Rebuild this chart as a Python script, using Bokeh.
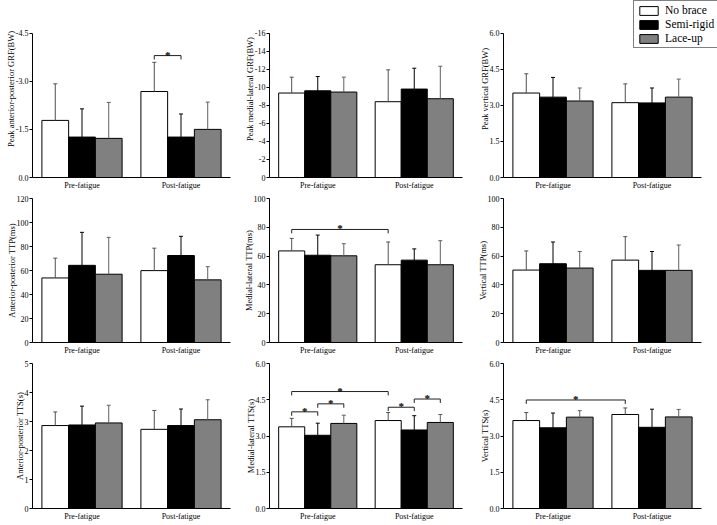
import numpy as np
from bokeh.plotting import figure
from bokeh.layouts import gridplot
from bokeh.models import Range1d, FixedTicker, PrintfTickFormatter, Legend, LegendItem
from bokeh.core.properties import value
from bokeh.embed import file_html
from bokeh.resources import INLINE

# ---------------- data ----------------
GROUPS = ["Pre-fatigue", "Post-fatigue"]
BRACES = ["No brace", "Semi-rigid", "Lace-up"]
# order of every value list: Pre-fatigue (No brace, Semi-rigid, Lace-up), Post-fatigue (No brace, Semi-rigid, Lace-up)

AP_GRF_MEAN = [-1.78, -1.26, -1.22, -2.68, -1.26, -1.50]
AP_GRF_SD = [1.14, 0.88, 1.12, 0.91, 0.72, 0.85]
AP_GRF_TICKS = [0.0, -1.5, -3.0, -4.5]
AP_GRF_SIG = [((1, 0), (1, 1), -3.80)]

ML_GRF_MEAN = [-9.36, -9.61, -9.47, -8.40, -9.80, -8.73]
ML_GRF_SD = [1.76, 1.58, 1.65, 3.53, 2.31, 3.60]
ML_GRF_TICKS = [0, -2, -4, -6, -8, -10, -12, -14, -16]
ML_GRF_SIG = []

V_GRF_MEAN = [3.51, 3.34, 3.18, 3.11, 3.10, 3.34]
V_GRF_SD = [0.80, 0.82, 0.54, 0.78, 0.62, 0.75]
V_GRF_TICKS = [0.0, 1.5, 3.0, 4.5, 6.0]
V_GRF_SIG = []

AP_TTP_MEAN = [53.8, 64.3, 56.9, 59.9, 72.5, 52.2]
AP_TTP_SD = [16.5, 27.5, 30.7, 18.7, 16.0, 11.0]
AP_TTP_TICKS = [0, 20, 40, 60, 80, 100, 120]
AP_TTP_SIG = []

ML_TTP_MEAN = [63.6, 60.6, 60.2, 54.0, 57.2, 54.0]
ML_TTP_SD = [8.7, 14.0, 8.4, 15.8, 7.8, 16.7]
ML_TTP_TICKS = [0, 20, 40, 60, 80, 100]
ML_TTP_SIG = [((0, 0), (1, 0), 78.5)]

V_TTP_MEAN = [50.3, 54.7, 51.7, 57.2, 50.1, 50.1]
V_TTP_SD = [13.3, 15.1, 11.5, 16.3, 13.1, 17.6]
V_TTP_TICKS = [0, 20, 40, 60, 80, 100]
V_TTP_SIG = []

AP_TTS_MEAN = [2.86, 2.88, 2.95, 2.73, 2.86, 3.06]
AP_TTS_SD = [0.47, 0.65, 0.61, 0.65, 0.57, 0.69]
AP_TTS_TICKS = [0, 1, 2, 3, 4, 5]
AP_TTS_SIG = []

ML_TTS_MEAN = [3.38, 3.03, 3.52, 3.64, 3.25, 3.56]
ML_TTS_SD = [0.35, 0.50, 0.34, 0.33, 0.59, 0.33]
ML_TTS_TICKS = [0.0, 1.5, 3.0, 4.5, 6.0]
ML_TTS_SIG = [((0, 0), (1, 0), 4.84), ((0, 0), (0, 1), 4.00), ((0, 1), (0, 2), 4.33),
              ((1, 0), (1, 1), 4.19), ((1, 1), (1, 2), 4.53)]

V_TTS_MEAN = [3.64, 3.34, 3.78, 3.89, 3.36, 3.79]
V_TTS_SD = [0.33, 0.61, 0.27, 0.27, 0.75, 0.31]
V_TTS_TICKS = [0.0, 1.5, 3.0, 4.5, 6.0]
V_TTS_SIG = [((0, 0), (1, 0), 4.49)]

YLABELS = [
    ["Peak anterior-posterior GRF(BW)", "Peak medial-lateral GRF(BW)", "Peak vertical GRF(BW)"],
    ["Anterior-posterior TTP(ms)", "Medial-lateral TTP(ms)", "Vertical TTP(ms)"],
    ["Anterior-posterior TTS(s)", "Medial-lateral TTS(s)", "Vertical TTS(s)"],
]

PANELS = [
    [(AP_GRF_MEAN, AP_GRF_SD, AP_GRF_TICKS, "%.1f", AP_GRF_SIG),
     (ML_GRF_MEAN, ML_GRF_SD, ML_GRF_TICKS, "%d", ML_GRF_SIG),
     (V_GRF_MEAN, V_GRF_SD, V_GRF_TICKS, "%.1f", V_GRF_SIG)],
    [(AP_TTP_MEAN, AP_TTP_SD, AP_TTP_TICKS, "%d", AP_TTP_SIG),
     (ML_TTP_MEAN, ML_TTP_SD, ML_TTP_TICKS, "%d", ML_TTP_SIG),
     (V_TTP_MEAN, V_TTP_SD, V_TTP_TICKS, "%d", V_TTP_SIG)],
    [(AP_TTS_MEAN, AP_TTS_SD, AP_TTS_TICKS, "%d", AP_TTS_SIG),
     (ML_TTS_MEAN, ML_TTS_SD, ML_TTS_TICKS, "%.1f", ML_TTS_SIG),
     (V_TTS_MEAN, V_TTS_SD, V_TTS_TICKS, "%.1f", V_TTS_SIG)],
]

# ---------------- style / layout ----------------
FONT = "Liberation Serif"
FILLS = ["white", "black", "#808080"]
ERR_COLORS = ["#505050", "black", "#606060"]
BAR_W = 0.27

COL_W = [231, 232, 254]
COL_BL = [32, 38, 40]
COL_BR = [1, 1, 0]
ROW_H = [192, 165, 166]
ROW_BT = [0, 6, 6]
ROW_BB = [13, 13, 13]
TOP_PAD = 33        # space between the top row's frame edge and its top tick (room for the legend)
AXIS_W3 = 198       # drawn axis length in the right column (frame extends further for the legend)


def bar_x(g, b):
    return g + 0.5 + (b - 1) * BAR_W


def make_panel(r, c):
    mean, sd, ticks, fmt, sig = PANELS[r][c]
    mean = np.array(mean, dtype=float)
    sd = np.array(sd, dtype=float)
    sign = np.sign(ticks[-1])
    span = abs(ticks[-1] - ticks[0])

    frame_h = ROW_H[r] - ROW_BT[r] - ROW_BB[r]
    frame_w = COL_W[c] - COL_BL[c] - COL_BR[c]
    y_end = ticks[-1] * frame_h / (frame_h - TOP_PAD) if r == 0 else ticks[-1]
    x_end = 2.0 * frame_w / AXIS_W3 if c == 2 else 2.0

    p = figure(width=COL_W[c], height=ROW_H[r],
               x_range=Range1d(0, x_end), y_range=Range1d(ticks[0], y_end),
               output_backend="svg", toolbar_location=None,
               min_border_left=COL_BL[c], min_border_right=COL_BR[c],
               min_border_top=ROW_BT[r], min_border_bottom=ROW_BB[r])
    p.grid.visible = False
    p.outline_line_color = None
    p.background_fill_color = "white"
    p.border_fill_color = "white"

    xa = p.xaxis[0]
    xa.bounds = (0, 2)
    xa.ticker = FixedTicker(ticks=[0.5, 1.5])
    xa.major_label_overrides = {0.5: GROUPS[0], 1.5: GROUPS[1]}
    xa.major_tick_out = 0
    xa.major_tick_in = 0
    xa.minor_tick_out = 0
    xa.minor_tick_in = 0
    xa.major_label_standoff = 3
    xa.major_label_text_font = FONT
    xa.major_label_text_font_size = "8px"
    xa.major_label_text_color = "black"
    xa.axis_line_color = "black"

    ya = p.yaxis[0]
    ya.bounds = (min(ticks[0], ticks[-1]), max(ticks[0], ticks[-1]))
    ya.ticker = FixedTicker(ticks=ticks)
    ya.formatter = PrintfTickFormatter(format=fmt)
    ya.major_tick_out = 3
    ya.major_tick_in = 0
    ya.minor_tick_out = 0
    ya.minor_tick_in = 0
    ya.major_tick_line_color = "black"
    ya.major_label_standoff = 1
    ya.major_label_text_font = FONT
    ya.major_label_text_font_size = "8px"
    ya.major_label_text_color = "black"
    ya.axis_line_color = "black"
    ya.axis_label = YLABELS[r][c]
    ya.axis_label_text_font = FONT
    ya.axis_label_text_font_size = "8.5px"
    ya.axis_label_text_font_style = "normal"
    ya.axis_label_text_color = "black"
    ya.axis_label_standoff = -3

    renderers = []
    for b in range(3):
        xs = [bar_x(g, b) for g in range(2)]
        tops = [mean[g * 3 + b] for g in range(2)]
        ups = [mean[g * 3 + b] + sign * sd[g * 3 + b] for g in range(2)]
        rb = p.vbar(x=xs, top=tops, bottom=0, width=BAR_W,
                    fill_color=FILLS[b], line_color="black", line_width=1)
        renderers.append(rb)
        p.segment(x0=xs, y0=tops, x1=xs, y1=ups, line_color=ERR_COLORS[b], line_width=1)
        p.scatter(x=xs, y=ups, marker="dash", size=4, line_color=ERR_COLORS[b], line_width=1)

    drop = sign * span * 0.027
    for (g1, b1), (g2, b2), level in sig:
        x1 = bar_x(g1, b1)
        x2 = bar_x(g2, b2)
        p.multi_line(xs=[[x1, x1, x2, x2]],
                     ys=[[level - drop, level, level, level - drop]],
                     line_color="#202020", line_width=1)
        p.text(x=[(x1 + x2) / 2], y=[level], text=["*"], text_align="center",
               text_baseline="bottom", text_font=value(FONT), text_font_size="11px",
               text_font_style="bold", text_color="#000000", y_offset=5)

    if r == 0 and c == 2:
        legend = Legend(items=[LegendItem(label=BRACES[i], renderers=[renderers[i]]) for i in range(3)],
                        location=(130, frame_h - 50))
        legend.label_text_font = FONT
        legend.label_text_font_size = "11.5px"
        legend.label_text_color = "black"
        legend.glyph_width = 23
        legend.glyph_height = 11
        legend.label_standoff = 5
        legend.spacing = 2
        legend.padding = 3
        legend.margin = 0
        legend.border_line_color = "black"
        legend.border_line_width = 1
        legend.background_fill_alpha = 1.0
        p.add_layout(legend)
    return p


rows = [[make_panel(r, c) for c in range(3)] for r in range(3)]
grid = gridplot(rows, toolbar_location=None)

open("out.html", "w").write(file_html(grid, INLINE))
